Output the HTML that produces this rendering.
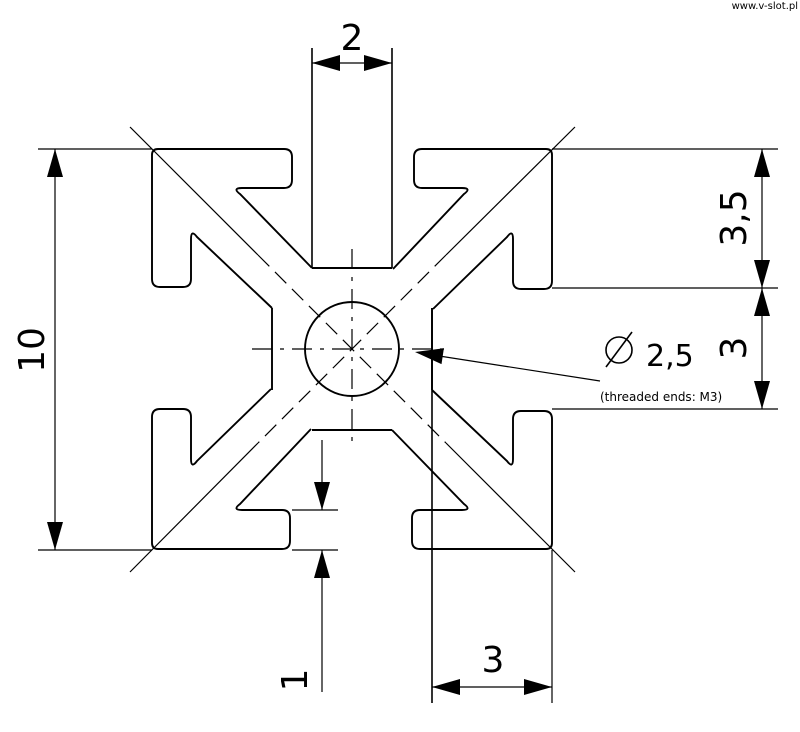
<!DOCTYPE html>
<html><head><meta charset="utf-8"><style>
html,body{margin:0;padding:0;background:#fff;}
svg{display:block;}
text{font-family:"DejaVu Sans","Liberation Sans",sans-serif;fill:#000;}
</style></head><body>
<svg width="800" height="732" viewBox="0 0 800 732" xmlns="http://www.w3.org/2000/svg">
<rect width="800" height="732" fill="#fff"/>
<text x="798" y="9" font-size="10" text-anchor="end" fill="#333">www.v-slot.pl</text>
<defs>
<path id="q" d="M -40 -81 L -112 -155 Q -120 -161 -110 -161 L -68 -161 Q -60 -161 -60 -169 L -60 -192 Q -60 -200 -68 -200 L -194 -200 Q -200 -200 -200 -194 L -200 -70 Q -200 -62 -192 -62 L -169 -62 Q -161 -62 -161 -70 L -161 -110 Q -161 -120 -155 -112 L -80 -41" fill="none" stroke="#000" stroke-width="1.9"/>
</defs>
<g transform="translate(352,349)">
<use href="#q"/>
<use href="#q" transform="rotate(90)"/>
<use href="#q" transform="rotate(180)"/>
<use href="#q" transform="rotate(270)"/>
<g stroke="#000" stroke-width="1.9" fill="none">
<line x1="-40" y1="-81" x2="40" y2="-81"/>
<line x1="-40" y1="81" x2="40" y2="81"/>
<line x1="-80" y1="-41" x2="-80" y2="41"/>
<line x1="80" y1="-41" x2="80" y2="41"/>
<circle cx="0" cy="0" r="47"/>
</g>
</g>
<g stroke="#000" stroke-width="1.2" fill="none">
<line x1="130" y1="127" x2="258" y2="255"/>
<line x1="446" y1="443" x2="575" y2="572"/>
<line x1="258" y1="255" x2="446" y2="443" stroke-dasharray="16,8"/>
<line x1="575" y1="127" x2="446" y2="255"/>
<line x1="258" y1="443" x2="130" y2="572"/>
<line x1="446" y1="255" x2="258" y2="443" stroke-dasharray="16,8"/>
<line x1="252" y1="349" x2="452" y2="349" stroke-dasharray="20,8,4,8"/>
<line x1="352" y1="249" x2="352" y2="449" stroke-dasharray="20,8,4,8"/>
<line x1="312" y1="48" x2="312" y2="268" stroke-width="1.6"/>
<line x1="392" y1="48" x2="392" y2="268" stroke-width="1.6"/>
<line x1="312" y1="63" x2="392" y2="63"/>
<line x1="38" y1="149" x2="152" y2="149"/>
<line x1="38" y1="550" x2="152" y2="550"/>
<line x1="55" y1="149" x2="55" y2="550"/>
<line x1="552" y1="149" x2="778" y2="149"/>
<line x1="552" y1="288" x2="778" y2="288"/>
<line x1="552" y1="409" x2="778" y2="409"/>
<line x1="762" y1="149" x2="762" y2="409"/>
<line x1="292" y1="510" x2="338" y2="510"/>
<line x1="292" y1="550" x2="338" y2="550"/>
<line x1="322" y1="440" x2="322" y2="510"/>
<line x1="322" y1="550" x2="322" y2="692"/>
<line x1="432" y1="308" x2="432" y2="703" stroke-width="1.6"/>
<line x1="552" y1="550" x2="552" y2="703"/>
<line x1="432" y1="687" x2="552" y2="687"/>
<line x1="600" y1="381" x2="420" y2="353"/>
</g>
<g fill="#000">
<polygon points="312,63 340,55 340,71"/>
<polygon points="392,63 364,55 364,71"/>
<polygon points="55,149 47,177 63,177"/>
<polygon points="55,550 47,522 63,522"/>
<polygon points="762,149 754,177 770,177"/>
<polygon points="762,288 754,260 770,260"/>
<polygon points="762,288 754,316 770,316"/>
<polygon points="762,409 754,381 770,381"/>
<polygon points="322,510 314,482 330,482"/>
<polygon points="322,550 314,578 330,578"/>
<polygon points="432,687 460,679 460,695"/>
<polygon points="552,687 524,679 524,695"/>
<polygon points="415,352 441.5,364.1 443.9,348.3"/>
</g>
<g font-size="36">
<text x="352" y="50" text-anchor="middle">2</text>
<text transform="translate(44,350) rotate(-90)" text-anchor="middle">10</text>
<text transform="translate(746,218) rotate(-90)" text-anchor="middle">3,5</text>
<text transform="translate(746,348) rotate(-90)" text-anchor="middle">3</text>
<text x="493" y="672" text-anchor="middle">3</text>
<text transform="translate(307,680) rotate(-90)" text-anchor="middle">1</text>
<text x="646" y="366" font-size="30">2,5</text>
</g>
<g stroke="#000" stroke-width="1.6" fill="none">
<circle cx="619" cy="350" r="13"/>
<line x1="606" y1="367" x2="632" y2="332"/>
</g>
<text x="600" y="401" font-size="12">(threaded ends: M3)</text>
</svg>
</body></html>
